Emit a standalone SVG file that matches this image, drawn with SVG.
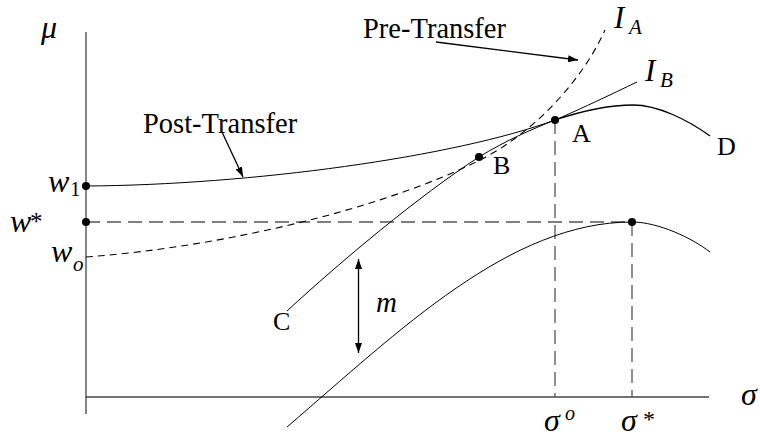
<svg xmlns="http://www.w3.org/2000/svg" width="760" height="438" viewBox="0 0 760 438">
<style>
text{font-family:"Liberation Serif","Times New Roman",serif;fill:#000}
.it{font-style:italic}
.axis{stroke:#444;stroke-width:1.3;fill:none}
.guide{stroke:#555;stroke-width:1.3;fill:none;stroke-dasharray:14 7}
.curve{stroke:#000;stroke-width:1.3;fill:none}
.thin{stroke:#000;stroke-width:1;fill:none}
.ia{stroke:#000;stroke-width:1.1;fill:none;stroke-dasharray:7 5}
.arr{stroke:#000;stroke-width:1.3;fill:none}
.dot{fill:#000}
</style>
<defs>
<marker id="ah" viewBox="0 0 10 7" refX="10" refY="3.5" markerWidth="10" markerHeight="7" markerUnits="userSpaceOnUse" orient="auto-start-reverse">
<path d="M0,0 L10,3.5 L0,7 z" fill="#000"/>
</marker>
</defs>
<g id="axes">
<line class="axis" x1="86" y1="32" x2="86" y2="414"/>
<line class="axis" x1="86" y1="397" x2="709" y2="397"/>
</g>
<g id="guides">
<line class="guide" x1="86" y1="222" x2="632" y2="222"/>
<line class="guide" x1="555" y1="120" x2="555" y2="397"/>
<line class="guide" x1="632" y1="222" x2="632" y2="397"/>
</g>
<g id="curves">
<path id="post-transfer-locus" class="thin" d="M86,186 C250,185 455,157 555,120"/>
<path id="AD" class="curve" d="M555,120 C585,110 610,105 633,105 C658,105 688,120 710,136"/>
<path id="IB" class="thin" d="M287,311 C340,262 420,195 479,157 C505,141 530,130 555,120 C585,107 612,94 637,82"/>
<path id="IA" class="ia" d="M86,257 C220,247 380,210 480,160 C530,135 580,85 605,30"/>
<path id="pre-transfer-locus" class="thin" d="M287,427 C400,330 510,222 632,222 C658,222 692,238 710,252"/>
</g>
<g id="connectors">
<line class="arr" x1="222" y1="132" x2="243" y2="177" marker-end="url(#ah)"/>
<line class="arr" x1="436" y1="42" x2="578" y2="60" marker-end="url(#ah)"/>
<line class="arr" x1="358.5" y1="259" x2="358.5" y2="353" marker-start="url(#ah)" marker-end="url(#ah)"/>
</g>
<g id="points">
<circle class="dot" cx="86" cy="186" r="4"/>
<circle class="dot" cx="86" cy="222" r="4"/>
<circle class="dot" cx="555" cy="120" r="4"/>
<circle class="dot" cx="479" cy="157" r="4"/>
<circle class="dot" cx="632" cy="222" r="4"/>
</g>
<g id="labels">
<text class="it" x="41" y="38" font-size="32">μ</text>
<text class="it" x="741" y="405" font-size="32">σ</text>
<g id="w1"><text class="it" x="48" y="192" font-size="32">w</text><text x="70" y="196" font-size="21">1</text></g>
<g id="wstar"><text class="it" x="10" y="232" font-size="32">w</text><text x="30" y="230" font-size="25">*</text></g>
<g id="wo"><text class="it" x="51" y="262" font-size="32">w</text><text class="it" x="73" y="271" font-size="21">o</text></g>
<g id="sigmao"><text class="it" x="544" y="431" font-size="32">σ</text><text class="it" x="565" y="420" font-size="20">o</text></g>
<g id="sigmastar"><text class="it" x="621" y="431" font-size="32">σ</text><text x="643" y="427" font-size="24">*</text></g>
<g id="IA-label"><text class="it" x="614" y="28" font-size="31">I</text><text class="it" x="629" y="34" font-size="21">A</text></g>
<g id="IB-label"><text class="it" x="645" y="81" font-size="31">I</text><text class="it" x="660" y="87" font-size="21">B</text></g>
<text x="143" y="133" font-size="28.5">Post-Transfer</text>
<text x="363" y="38" font-size="28.5">Pre-Transfer</text>
<text id="A" x="572" y="142" font-size="26">A</text>
<text id="B" x="493" y="174" font-size="26">B</text>
<text id="C" x="273" y="330" font-size="26">C</text>
<text id="D" x="717" y="155" font-size="26">D</text>
<text class="it" x="376" y="312" font-size="29">m</text>
</g>
</svg>
